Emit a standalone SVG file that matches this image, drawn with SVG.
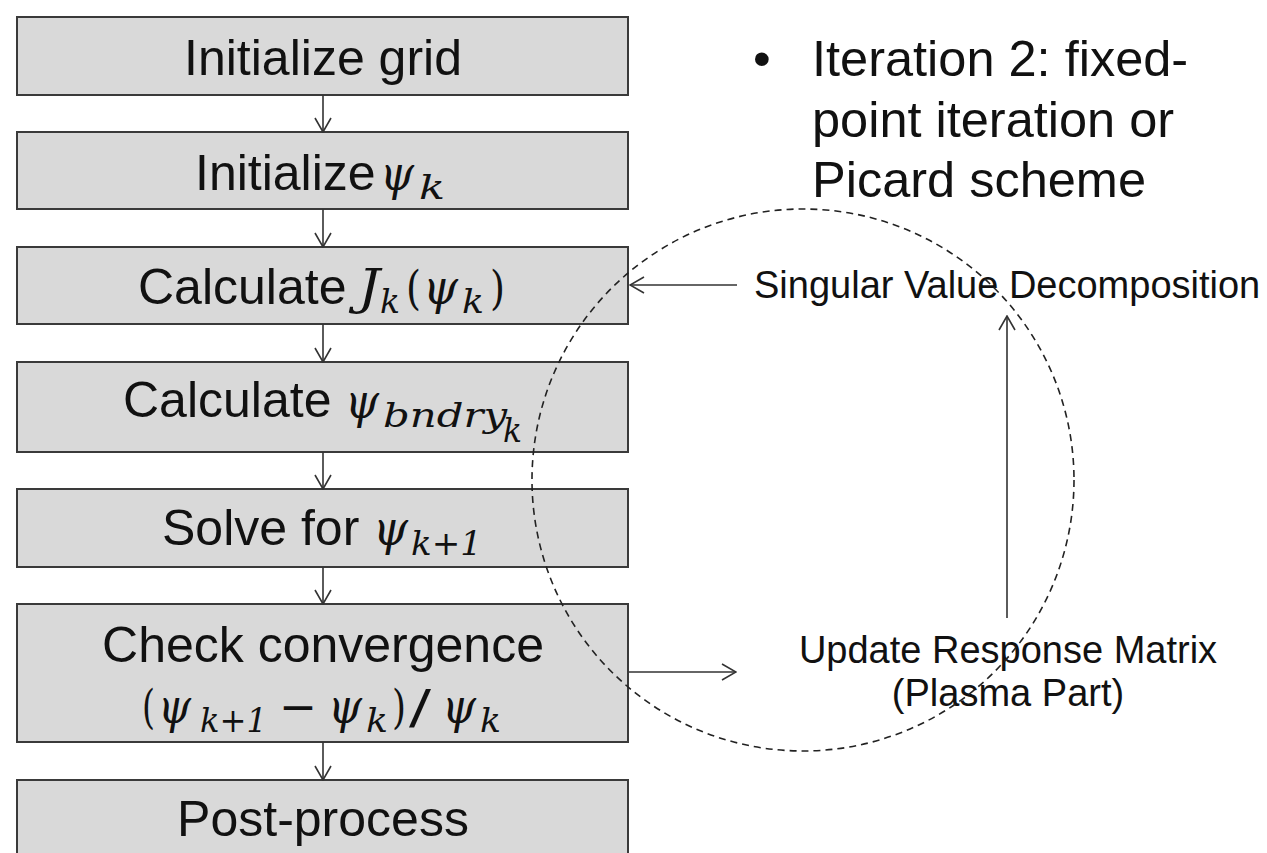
<svg xmlns="http://www.w3.org/2000/svg" width="1267" height="853" viewBox="0 0 1267 853">
<style>
.box{fill:#d9d9d9;stroke:#3a3a3a;stroke-width:2}
.t{font-family:"Liberation Sans",Arial,sans-serif;font-size:50px;fill:#111}
.m{font-family:"DejaVu Serif","Liberation Serif",serif;font-style:italic;font-size:49px;fill:#111}
.s{font-family:"DejaVu Serif","Liberation Serif",serif;font-style:italic;font-size:34px;fill:#111}
.r{font-family:"DejaVu Serif","Liberation Serif",serif;font-size:47px;fill:#111}
.rs{font-family:"DejaVu Serif","Liberation Serif",serif;font-size:34px;fill:#111}
.lbl{font-family:"Liberation Sans",Arial,sans-serif;font-size:38px;fill:#111}
.big{font-family:"Liberation Sans",Arial,sans-serif;font-size:50.5px;fill:#111}
.c{fill:none;stroke:#333;stroke-width:1.6}
</style>
<defs>
<marker id="ah" markerWidth="16" markerHeight="18" refX="15" refY="9" orient="auto" markerUnits="userSpaceOnUse" viewBox="0 0 16 18">
<path d="M1,1 L15,9 L1,17" fill="none" stroke="#333" stroke-width="1.6"/>
</marker>
</defs>
<rect width="1267" height="853" fill="#fff"/>

<g id="n1"><rect class="box" x="17" y="17" width="611" height="78"/>
<text class="t" x="323" y="75" text-anchor="middle">Initialize grid</text></g>

<g id="n2"><rect class="box" x="17" y="132" width="611" height="77"/>
<text class="t" x="195" y="190">Initialize</text>
<text class="m" x="380" y="190" textLength="34" lengthAdjust="spacingAndGlyphs">ψ</text>
<text class="s" x="419" y="199" textLength="26" lengthAdjust="spacingAndGlyphs">k</text></g>

<g id="n3"><rect class="box" x="17" y="247" width="611" height="77"/>
<text class="t" x="138" y="304">Calculate</text>
<text class="m" x="358" y="304" textLength="22" lengthAdjust="spacingAndGlyphs">J</text>
<text class="s" x="380" y="313" textLength="20" lengthAdjust="spacingAndGlyphs">k</text>
<text class="r" x="406" y="304" textLength="15" lengthAdjust="spacingAndGlyphs">(</text>
<text class="m" x="423" y="304" textLength="35" lengthAdjust="spacingAndGlyphs">ψ</text>
<text class="s" x="462" y="313" textLength="22" lengthAdjust="spacingAndGlyphs">k</text>
<text class="r" x="490" y="304" textLength="15" lengthAdjust="spacingAndGlyphs">)</text></g>

<g id="n4"><rect class="box" x="17" y="362" width="611" height="90"/>
<text class="t" x="123" y="417">Calculate</text>
<text class="m" x="345" y="418" textLength="34" lengthAdjust="spacingAndGlyphs">ψ</text>
<text class="s" x="383" y="427" textLength="124" lengthAdjust="spacingAndGlyphs">bndry</text>
<text class="s" x="503" y="442" textLength="19" lengthAdjust="spacingAndGlyphs">k</text></g>

<g id="n5"><rect class="box" x="17" y="489" width="611" height="78"/>
<text class="t" x="162" y="545">Solve for</text>
<text class="m" x="373" y="545" textLength="35" lengthAdjust="spacingAndGlyphs">ψ</text>
<text class="s" x="411" y="555" textLength="71" lengthAdjust="spacingAndGlyphs">k+1</text></g>

<g id="n6"><rect class="box" x="17" y="604" width="611" height="138"/>
<text class="t" x="323" y="662" text-anchor="middle">Check convergence</text>
<text class="r" x="142" y="723" textLength="13" lengthAdjust="spacingAndGlyphs">(</text>
<text class="m" x="158" y="723" textLength="33" lengthAdjust="spacingAndGlyphs">ψ</text>
<text class="s" x="200" y="732" textLength="67" lengthAdjust="spacingAndGlyphs">k+1</text>
<text class="r" x="279" y="723" textLength="38" lengthAdjust="spacingAndGlyphs">−</text>
<text class="m" x="328" y="723" textLength="34" lengthAdjust="spacingAndGlyphs">ψ</text>
<text class="s" x="366" y="732" textLength="22" lengthAdjust="spacingAndGlyphs">k</text>
<text class="r" x="392" y="723" textLength="14" lengthAdjust="spacingAndGlyphs">)</text>
<text class="r" x="409" y="723" textLength="22" lengthAdjust="spacingAndGlyphs">/</text>
<text class="m" x="442" y="723" textLength="34" lengthAdjust="spacingAndGlyphs">ψ</text>
<text class="s" x="480" y="732" textLength="21" lengthAdjust="spacingAndGlyphs">k</text></g>

<g id="n7"><rect class="box" x="17" y="780" width="611" height="90"/>
<text class="t" x="323" y="836" text-anchor="middle">Post-process</text></g>

<g id="note">
<text class="big" x="753" y="76">•</text>
<text class="big" x="812" y="76">Iteration 2: fixed-</text>
<text class="big" x="812" y="137">point iteration or</text>
<text class="big" x="812" y="197">Picard scheme</text>
</g>

<g id="svd"><text class="lbl" x="754" y="298">Singular Value Decomposition</text></g>
<g id="urm"><text class="lbl" x="1008" y="663" text-anchor="middle">Update Response Matrix</text>
<text class="lbl" x="1008" y="706" text-anchor="middle">(Plasma Part)</text></g>

<g id="loop"><circle cx="803" cy="480" r="271" fill="none" stroke="#222" stroke-width="1.6" stroke-dasharray="7 5"/></g>

<g id="connectors">
<line class="c" x1="323" y1="95" x2="323" y2="132" marker-end="url(#ah)"/>
<line class="c" x1="323" y1="209" x2="323" y2="247" marker-end="url(#ah)"/>
<line class="c" x1="323" y1="324" x2="323" y2="362" marker-end="url(#ah)"/>
<line class="c" x1="323" y1="452" x2="323" y2="489" marker-end="url(#ah)"/>
<line class="c" x1="323" y1="567" x2="323" y2="604" marker-end="url(#ah)"/>
<line class="c" x1="323" y1="742" x2="323" y2="780" marker-end="url(#ah)"/>
<line class="c" x1="737" y1="285" x2="630" y2="285" marker-end="url(#ah)"/>
<line class="c" x1="629" y1="672" x2="736" y2="672" marker-end="url(#ah)"/>
<line class="c" x1="1007" y1="618" x2="1007" y2="316" marker-end="url(#ah)"/>
</g>
</svg>
